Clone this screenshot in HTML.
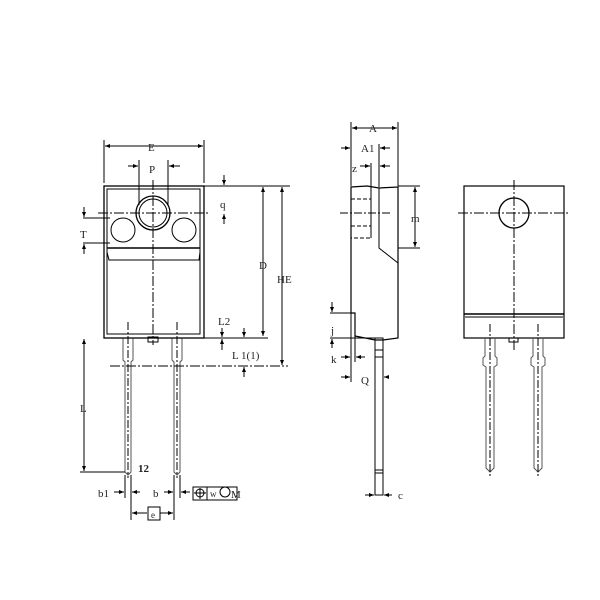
<!DOCTYPE html>
<html><head><style>body{margin:0;background:#fff}svg{display:block}text{font-family:"Liberation Serif",serif;font-size:11px;fill:#222}</style></head><body>
<svg width="600" height="600" viewBox="0 0 600 600" xmlns="http://www.w3.org/2000/svg">
<defs><marker id="a" viewBox="0 0 10 10" refX="10" refY="5" markerWidth="5" markerHeight="5" orient="auto-start-reverse"><path d="M0,1L10,5L0,9z" fill="#000"/></marker></defs>
<g fill="none" stroke="#000" stroke-width="1">
<!-- LEFT VIEW -->
<rect x="104" y="186" width="100" height="152" stroke-width="1.3"/>
<path d="M107,189H200V334H107Z"/>
<line x1="107" y1="248" x2="200" y2="248" stroke-width="1.5"/>
<path d="M107,252L109,260H199L200,252"/><line x1="109" y1="260" x2="199" y2="260"/>
<circle cx="153" cy="213" r="17" stroke-width="1.3"/><circle cx="153" cy="213" r="14"/>
<circle cx="123" cy="230" r="12"/><circle cx="184" cy="230" r="12"/>
<line x1="98" y1="213" x2="210" y2="213" stroke-dasharray="10,2,2,2"/>
<line x1="153" y1="180" x2="153" y2="345" stroke-dasharray="10,2,2,2"/>
<rect x="148" y="337" width="10" height="5"/>
<g stroke="#555"><path d="M123,338V360L125,362V472L128,475L131,472V362L133,360V338"/><path d="M172,338V360L174,362V472L177,475L180,472V362L182,360V338"/></g>
<line x1="128" y1="322" x2="128" y2="478" stroke-dasharray="8,2,2,2"/><line x1="177" y1="322" x2="177" y2="478" stroke-dasharray="8,2,2,2"/>
<line x1="104" y1="140" x2="104" y2="183"/><line x1="204" y1="140" x2="204" y2="183"/>
<line x1="105" y1="146" x2="203" y2="146" marker-start="url(#a)" marker-end="url(#a)"/>
<line x1="139" y1="160" x2="139" y2="205"/><line x1="168" y1="160" x2="168" y2="205"/>
<line x1="128" y1="166" x2="138" y2="166" marker-end="url(#a)"/><line x1="180" y1="166" x2="169" y2="166" marker-end="url(#a)"/>
<line x1="204" y1="186" x2="290" y2="186"/><line x1="224" y1="175" x2="224" y2="185" marker-end="url(#a)"/><line x1="224" y1="224" x2="224" y2="214" marker-end="url(#a)"/>
<line x1="83" y1="218" x2="110" y2="218"/><line x1="83" y1="243" x2="110" y2="243"/>
<line x1="84" y1="207" x2="84" y2="217" marker-end="url(#a)"/><line x1="84" y1="254" x2="84" y2="244" marker-end="url(#a)"/>
<line x1="263" y1="187" x2="263" y2="336" marker-start="url(#a)" marker-end="url(#a)"/>
<line x1="282" y1="187" x2="282" y2="365" marker-start="url(#a)" marker-end="url(#a)"/>
<line x1="104" y1="338" x2="268" y2="338"/>
<line x1="222" y1="328" x2="222" y2="337" marker-end="url(#a)"/><line x1="222" y1="350" x2="222" y2="339" marker-end="url(#a)"/>
<line x1="244" y1="328" x2="244" y2="337" marker-end="url(#a)"/><line x1="244" y1="377" x2="244" y2="367" marker-end="url(#a)"/>
<line x1="110" y1="366" x2="288" y2="366" stroke-dasharray="10,2,2,2"/>
<line x1="84" y1="339" x2="84" y2="471" marker-start="url(#a)" marker-end="url(#a)"/>
<line x1="80" y1="472" x2="125" y2="472"/>
<line x1="125" y1="475" x2="125" y2="498"/><line x1="131" y1="475" x2="131" y2="520"/><line x1="174" y1="475" x2="174" y2="520"/><line x1="180" y1="475" x2="180" y2="498"/>
<line x1="114" y1="492" x2="124" y2="492" marker-end="url(#a)"/><line x1="140" y1="492" x2="132" y2="492" marker-end="url(#a)"/>
<line x1="164" y1="492" x2="173" y2="492" marker-end="url(#a)"/><line x1="190" y1="492" x2="181" y2="492" marker-end="url(#a)"/>
<line x1="132" y1="513" x2="147" y2="513" marker-start="url(#a)"/><line x1="160" y1="513" x2="173" y2="513" marker-end="url(#a)"/>
<rect x="148" y="507" width="12" height="13"/>
<rect x="193" y="487" width="44" height="13"/><line x1="207" y1="487" x2="207" y2="500"/>
<circle cx="200" cy="493" r="4"/><line x1="194" y1="493" x2="206" y2="493"/><line x1="200" y1="488" x2="200" y2="499"/>
<circle cx="225" cy="492" r="5"/>
<!-- MIDDLE VIEW -->
<path d="M351,187L367,186L379,188L398,187V338L383,340H375L355,336V313H351Z" stroke-width="1.2"/>
<path d="M379,188V248L398,263"/>
<path d="M351,199H371V238H351M371,199V238M351,226H371" stroke-dasharray="4,2"/>
<line x1="340" y1="213" x2="390" y2="213" stroke-dasharray="8,2,2,2"/>
<rect x="375" y="338" width="8" height="157"/>
<line x1="375" y1="350" x2="383" y2="350"/><line x1="375" y1="357" x2="383" y2="357"/><line x1="375" y1="470" x2="383" y2="470"/><line x1="375" y1="473" x2="383" y2="473"/>
<line x1="351" y1="122" x2="351" y2="186"/><line x1="398" y1="122" x2="398" y2="186"/>
<line x1="352" y1="128" x2="397" y2="128" marker-start="url(#a)" marker-end="url(#a)"/>
<line x1="379" y1="144" x2="379" y2="187"/>
<line x1="341" y1="148" x2="350" y2="148" marker-end="url(#a)"/><line x1="390" y1="148" x2="380" y2="148" marker-end="url(#a)"/>
<line x1="371" y1="163" x2="371" y2="199"/>
<line x1="360" y1="166" x2="370" y2="166" marker-end="url(#a)"/><line x1="390" y1="166" x2="380" y2="166" marker-end="url(#a)"/>
<line x1="398" y1="186" x2="420" y2="186"/><line x1="398" y1="248" x2="420" y2="248"/>
<line x1="415" y1="187" x2="415" y2="247" marker-start="url(#a)" marker-end="url(#a)"/>
<line x1="330" y1="313" x2="351" y2="313"/><line x1="330" y1="338" x2="375" y2="338"/>
<line x1="332" y1="302" x2="332" y2="312" marker-end="url(#a)"/><line x1="332" y1="348" x2="332" y2="339" marker-end="url(#a)"/>
<line x1="355" y1="336" x2="355" y2="362"/><line x1="351" y1="313" x2="351" y2="382"/>
<line x1="341" y1="357" x2="350" y2="357" marker-end="url(#a)"/><line x1="365" y1="357" x2="356" y2="357" marker-end="url(#a)"/>
<line x1="341" y1="377" x2="350" y2="377" marker-end="url(#a)"/><line x1="388" y1="377" x2="384" y2="377" marker-end="url(#a)"/>
<line x1="365" y1="495" x2="374" y2="495" marker-end="url(#a)"/><line x1="392" y1="495" x2="384" y2="495" marker-end="url(#a)"/>
<!-- RIGHT VIEW -->
<rect x="464" y="186" width="100" height="152" stroke-width="1.2"/>
<line x1="464" y1="314" x2="564" y2="314" stroke-width="1.5"/><line x1="465" y1="317" x2="563" y2="317"/>
<circle cx="514" cy="213" r="15" stroke-width="1.3"/>
<line x1="458" y1="213" x2="570" y2="213" stroke-dasharray="10,2,2,2"/>
<line x1="514" y1="180" x2="514" y2="350" stroke-dasharray="10,2,2,2"/>
<rect x="509" y="338" width="9" height="4"/>
<g stroke="#555"><path d="M485,338V356L483,358V365L486,367V468L490,472L494,468V367L497,365V358L495,356V338"/><path d="M533,338V356L531,358V365L534,367V468L538,472L542,468V367L545,365V358L543,356V338"/></g>
<line x1="490" y1="324" x2="490" y2="476" stroke-dasharray="8,2,2,2"/><line x1="538" y1="324" x2="538" y2="476" stroke-dasharray="8,2,2,2"/>
</g>
<text x="148" y="151">E</text><text x="149" y="173">P</text><text x="220" y="208">q</text><text x="80" y="238">T</text>
<text x="259" y="269">D</text><text x="277" y="283">HE</text><text x="218" y="325">L2</text><text x="232" y="359">L 1(1)</text>
<text x="80" y="412">L</text><text x="138" y="472" font-weight="bold">12</text><text x="98" y="497">b1</text><text x="153" y="497">b</text>
<text x="151" y="518" style="font-size:9px">e</text><text x="210" y="497" style="font-size:9px">w</text><text x="231" y="498">M</text>
<text x="369" y="132">A</text><text x="361" y="152">A1</text><text x="352" y="172">z</text><text x="411" y="222">m</text>
<text x="331" y="334">j</text><text x="331" y="363">k</text><text x="361" y="384">Q</text><text x="398" y="499">c</text>
</svg>
</body></html>
